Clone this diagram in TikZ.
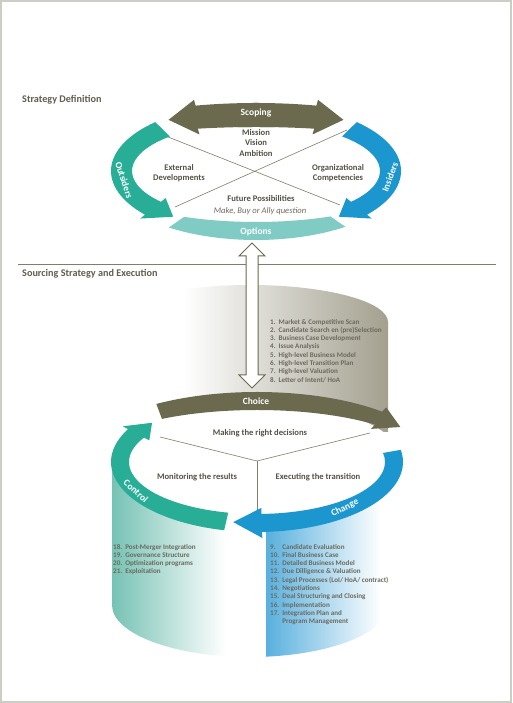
\documentclass[tikz,border=0pt]{standalone}
\usepackage{fontspec}
\setmainfont{Carlito}
\usetikzlibrary{positioning}

\definecolor{bandolive}{RGB}{107,105,78}
\definecolor{tealband}{RGB}{40,174,150}
\definecolor{blueband}{RGB}{28,150,206}
\definecolor{optionteal}{RGB}{128,203,196}
\definecolor{cylgray}{RGB}{163,160,143}
\definecolor{tealfade}{RGB}{118,194,180}
\definecolor{bluefade}{RGB}{88,176,222}
\definecolor{txtgray}{RGB}{84,82,70}
\definecolor{listgray}{RGB}{108,106,94}
\definecolor{headgray}{RGB}{96,94,80}
\definecolor{linegray}{RGB}{128,126,104}
\definecolor{framegray}{RGB}{205,205,198}

\pgfdeclarehorizontalshading{grayfade}{100bp}{color(0bp)=(white); color(38bp)=(white); color(75bp)=(cylgray); color(100bp)=(cylgray)}
\pgfdeclarehorizontalshading{tealside}{100bp}{color(0bp)=(tealfade); color(25bp)=(tealfade); color(66bp)=(white); color(100bp)=(white)}
\pgfdeclarehorizontalshading{blueside}{100bp}{color(0bp)=(bluefade); color(25bp)=(bluefade); color(72bp)=(white); color(100bp)=(white)}

% band on an ellipse: colour, centre, outer rx/ry, inner rx/ry, tail angle, head angle, tip offset
\newcommand{\ringband}[9]{%
	\pgfmathsetmacro\rbtip{#8+(#9)}%
	\pgfmathsetmacro\rbox{#3+6}%
	\pgfmathsetmacro\rboy{#4+6}%
	\pgfmathsetmacro\rbix{#5-6}%
	\pgfmathsetmacro\rbiy{#6-6}%
	\pgfmathsetmacro\rbmx{(#3+#5)/2}%
	\pgfmathsetmacro\rbmy{(#4+#6)/2}%
	\fill[#1] ([shift={(#2)}]#7:#3 and #4)
		arc[start angle=#7, end angle=#8, x radius=#3, y radius=#4]
		-- ([shift={(#2)}]#8:\rbox\space and \rboy)
		-- ([shift={(#2)}]\rbtip:\rbmx\space and \rbmy)
		-- ([shift={(#2)}]#8:\rbix\space and \rbiy)
		-- ([shift={(#2)}]#8:#5 and #6)
		arc[start angle=#8, end angle=#7, x radius=#5, y radius=#6]
		-- cycle;%
}

\begin{document}
\begin{tikzpicture}[
	x=1pt, y=1pt,
	lbl/.style={
		font=\bfseries\fontsize{8.6}{10.5}\selectfont,
		text=txtgray,
		align=center
	},
	bandlbl/.style={
		font=\bfseries\fontsize{9.5}{11}\selectfont,
		text=white,
		inner sep=0pt
	},
	steplist/.style={
		font=\bfseries\fontsize{7.1}{8.3}\selectfont,
		text=listgray,
		inner sep=0pt,
		anchor=north west
	},
	section/.style={
		font=\bfseries\fontsize{10.2}{12}\selectfont,
		text=headgray,
		anchor=west,
		inner sep=0pt
	},
	lines/.style={
		draw=linegray,
		line width=0.6pt
	},
	hollow/.style={
		draw=bandolive,
		fill=white,
		line width=1pt
	}
]
	\useasboundingbox (0,0) rectangle (512,703);
	\fill[white] (0,0) rectangle (512,703);
	\draw[framegray, line width=2pt] (1,1) rectangle (511,702);

	\coordinate (C1) at (256,532);
	\coordinate (C2) at (257,241);

	%% titles
	\node[section] (strategy) at (22,603) {Strategy Definition};
	\node[section] (sourcing) at (22,429) {Sourcing Strategy and Execution};
	\coordinate (ruleL) at (18,439);
	\coordinate (ruleR) at (496,439);
	\draw[lines, line width=0.9pt] (ruleL) -- (ruleR);

	%% strategy definition ring
	\coordinate (xa) at (163,568);
	\coordinate (xb) at (340,498);
	\coordinate (xc) at (347,573);
	\coordinate (xd) at (175,496);
	\draw[lines] (xa) -- (xb);
	\draw[lines] (xc) -- (xd);

	\ringband{bandolive}{C1}{219}{68}{211}{44}{85}{106}{8}
	\ringband{bandolive}{C1}{219}{68}{211}{44}{95}{74}{-8}
	\ringband{tealband}{C1}{145}{68}{124}{48}{134}{220}{12}
	\ringband{blueband}{C1}{145}{68}{124}{48}{46}{-40}{-12}
	\fill[optionteal] ([shift={(C1)}]235:152 and 69)
		arc[start angle=235, end angle=306, x radius=152, y radius=69]
		-- ([shift={(C1)}]297:164 and 51)
		arc[start angle=297, end angle=244, x radius=164, y radius=51] -- cycle;

	\node[bandlbl] (scoping) at (256,590) {Scoping};
	\node[bandlbl] (options) at (256,471) {Options};
	\node[bandlbl, rotate=-72] (outsiders) at (124,523) {Outsiders};
	\node[bandlbl, rotate=70] (insiders) at (390,526) {Insiders};

	\node[lbl] (mission) at (256,560) {
		Mission\\
		Vision\\
		Ambition
	};
	\node[lbl] (external) at (179,530) {
		External\\
		Developments
	};
	\node[lbl] (competencies) at (338,530) {
		Organizational\\
		Competencies
	};
	\node[lbl] (future) at (261,504) {Future Possibilities};
	\node[lbl, font=\itshape\fontsize{8.6}{10}\selectfont, text=listgray] (ally) [below=-1.5pt of future] {
		Make, Buy or Ally question
	};

	%% sourcing cylinder
	\shade[shading=grayfade] (112,381)
		arc[start angle=180, end angle=0, x radius=138, y radius=37]
		-- (388,271) -- (112,271) -- cycle;
	\shade[shading=tealside] (112,241) -- (112,98)
		arc[start angle=180, end angle=270, x radius=138, y radius=52]
		-- (250,241) -- cycle;
	\shade[shading=blueside] (266,241) -- ([shift={(250,98)}]276.7:138 and 52)
		arc[start angle=276.7, end angle=360, x radius=138, y radius=52]
		-- (388,241) -- cycle;
	\fill[white] (C2) ellipse[x radius=146, y radius=60];

	\coordinate (dtop) at (252,460);
	\coordinate (dbot) at (252,315);
	\draw[hollow] (dtop) -- ++(13,-13) -- ++(-7,0) -- ++(0,-119) -- ++(7,0)
		-- (dbot) -- ++(-13,13) -- ++(7,0) -- ++(0,119) -- ++(-7,0) -- cycle;

	\coordinate (yleft) at (160,266);
	\coordinate (ymid) at (257,242);
	\coordinate (yright) at (370,270);
	\coordinate (ydown) at (257,188);
	\draw[lines] (yleft) -- (ymid) -- (yright);
	\draw[lines] (ymid) -- (ydown);

	\ringband{bandolive}{C2}{180}{70}{170}{52}{124}{46}{-11}
	\ringband{tealband}{C2}{146}{70}{128}{52}{257}{152}{-12}
	\ringband{blueband}{C2}{146}{70}{128}{52}{10}{-88}{-12}

	\node[bandlbl] (choice) at (256,302) {Choice};
	\node[bandlbl, rotate=-42] (control) at (136,212) {Control};
	\node[bandlbl, rotate=27] (change) at (345,195) {Change};

	\node[lbl] (decisions) at (260,270) {Making the right decisions};
	\node[lbl] (monitoring) at (197,226) {Monitoring the results};
	\node[lbl] (executing) at (318,226) {Executing the transition};

	%% step lists
	\node[steplist] (choicesteps) at (270,385) {
		\begin{tabular}{@{}l@{\hspace{3pt}}l@{}}
			1. & Market \& Competitive Scan\\
			2. & Candidate Search en (pre)Selection\\
			3. & Business Case Development\\
			4. & Issue Analysis\\
			5. & High-level Business Model\\
			6. & High-level Transition Plan\\
			7. & High-level Valuation\\
			8. & Letter of Intent/ HoA
		\end{tabular}
	};
	\node[steplist] (changesteps) at (270,160) {
		\begin{tabular}{@{}l@{\hspace{3pt}}l@{}}
			9. & Candidate Evaluation\\
			10. & Final Business Case\\
			11. & Detailed Business Model\\
			12. & Due Dilligence \& Valuation\\
			13. & Legal Processes (LoI/ HoA/ contract)\\
			14. & Negotiations\\
			15. & Deal Structuring and Closing\\
			16. & Implementation\\
			17. & Integration Plan and\\
			 & Program Management
		\end{tabular}
	};
	\node[steplist] (controlsteps) at (113,160) {
		\begin{tabular}{@{}l@{\hspace{3pt}}l@{}}
			18. & Post-Merger Integration\\
			19. & Governance Structure\\
			20. & Optimization programs\\
			21. & Exploitation
		\end{tabular}
	};
\end{tikzpicture}
\end{document}
